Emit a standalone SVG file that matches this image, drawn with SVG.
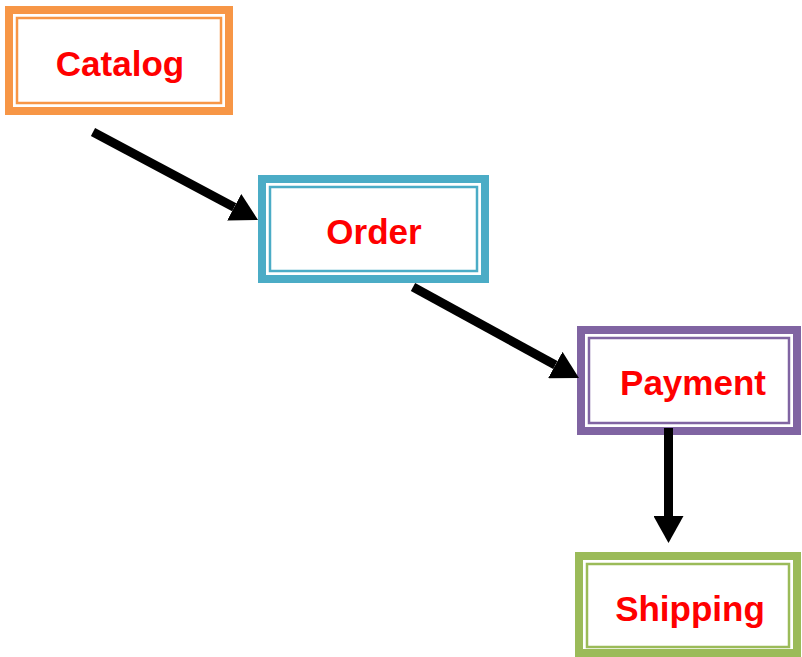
<svg xmlns="http://www.w3.org/2000/svg" width="802" height="657" viewBox="0 0 802 657">
<style>
.outer{fill:#fff;stroke-width:8}
.inner{fill:none;stroke-width:2.5}
.lbl{font-family:"Liberation Sans",Arial,sans-serif;font-weight:bold;font-size:35px;fill:#FF0000;text-anchor:middle}
.conn{stroke:#000;stroke-width:9;fill:none;marker-end:url(#ah)}
</style>
<defs>
<marker id="ah" markerUnits="userSpaceOnUse" viewBox="0 -15 27 30" refX="0" refY="0" markerWidth="27" markerHeight="30" orient="auto">
<path d="M0,-15 L27,0 L0,15 Z" fill="#000"/>
</marker>
</defs>
<rect width="802" height="657" fill="#fff"/>
<g id="catalog">
<rect class="outer" x="9" y="10" width="220" height="101" stroke="#F79646"/>
<rect class="inner" x="17" y="18" width="204" height="85" stroke="#F79646"/>
<text class="lbl" x="120" y="76">Catalog</text>
</g>
<g id="order">
<rect class="outer" x="262" y="179" width="223" height="100" stroke="#4BACC6"/>
<rect class="inner" x="270" y="187" width="207" height="84" stroke="#4BACC6"/>
<text class="lbl" x="374" y="244">Order</text>
</g>
<g id="payment">
<rect class="outer" x="581" y="330" width="216" height="101" stroke="#8064A2"/>
<rect class="inner" x="589" y="338" width="200" height="85" stroke="#8064A2"/>
<text class="lbl" x="693" y="395">Payment</text>
</g>
<g id="shipping">
<rect class="outer" x="579" y="556" width="218" height="97" stroke="#9BBB59"/>
<rect class="inner" x="587" y="564" width="202" height="83" stroke="#9BBB59"/>
<text class="lbl" x="690" y="621">Shipping</text>
</g>
<g id="connectors">
<path class="conn" d="M93,132 L234.2,207.2"/>
<path class="conn" d="M413,287 L555.3,365"/>
<path class="conn" d="M668.5,428 L668.5,516"/>
</g>
</svg>
